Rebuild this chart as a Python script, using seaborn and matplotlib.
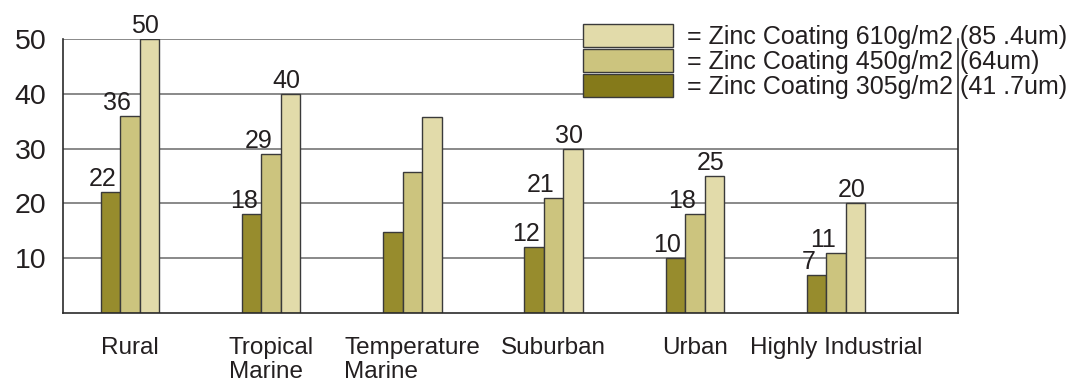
import matplotlib
matplotlib.use("Agg")
import matplotlib.pyplot as plt
import seaborn as sns
import pandas as pd

regions = ["Rural", "Tropical\nMarine", "Temperature\nMarine", "Suburban", "Urban", "Highly Industrial"]
coatings = [
    "= Zinc Coating 305g/m2 (41 .7um)",
    "= Zinc Coating 450g/m2 (64um)",
    "= Zinc Coating 610g/m2 (85 .4um)",
]
zinc_305 = [22, 18, 14.8, 12, 10, 7]
zinc_450 = [36, 29, 25.8, 21, 18, 11]
zinc_610 = [50, 40, 35.7, 30, 25, 20]
# printed values above the bars (Temperature Marine is left unlabelled)
labels_305 = ["22", "18", None, "12", "10", "7"]
labels_450 = ["36", "29", None, "21", "18", "11"]
labels_610 = ["50", "40", None, "30", "25", "20"]
y_ticks = [10, 20, 30, 40, 50]

colors = ["#978C2D", "#CCC47E", "#E2DBAA"]
legend_colors = ["#857A1A", "#CCC47E", "#E2DBAA"]

sns.set_theme(style="white")
plt.rcParams["font.family"] = ["Liberation Sans", "DejaVu Sans"]

rows = []
for coat, vals in zip(coatings, [zinc_305, zinc_450, zinc_610]):
    for reg, v in zip(regions, vals):
        rows.append({"region": reg, "coating": coat, "value": v})
df = pd.DataFrame(rows)

W, H = 1078, 382
fig = plt.figure(figsize=(W / 100, H / 100), dpi=100)
ax = fig.add_axes([63 / W, (H - 313) / H, (958 - 63) / W, (313 - 39) / H])

sns.barplot(
    data=df, x="region", y="value", hue="coating", order=regions,
    hue_order=coatings, palette=colors, saturation=1, width=0.414,
    edgecolor="#3a3a3a", linewidth=1.0, ax=ax, legend=True,
)

ax.set_ylim(0, 50)
ax.set_xlim(-0.4745, 5.864)
ax.set_yticks(y_ticks)
ax.set_yticklabels([str(t) for t in y_ticks], fontsize=20.5, color="#231f20")
ax.tick_params(axis="y", length=0, pad=12)
ax.tick_params(axis="x", length=0, pad=17)
ax.set_xticks(range(len(regions)))
ax.set_xticklabels(regions, fontsize=17.5, color="#231f20",
                   multialignment="left", linespacing=1.12)
ax.set_xlabel("")
ax.set_ylabel("")
ax.grid(axis="y", color="#6a6a6a", linewidth=1.1)
ax.set_axisbelow(True)

for side in ["left", "bottom", "right"]:
    ax.spines[side].set_visible(True)
    ax.spines[side].set_color("#2b2b2b")
    ax.spines[side].set_linewidth(1.2)
ax.spines["top"].set_visible(False)
ax.spines["right"].set_zorder(6)

# value labels, nudged a little to the left of each bar
offsets = [-5.8, -9.4, -2.9]
for container, labs, dx in zip(ax.containers, [labels_305, labels_450, labels_610], offsets):
    for bar, lab in zip(container, labs):
        if lab is None:
            continue
        ax.annotate(lab, (bar.get_x() + bar.get_width() / 2, bar.get_height()),
                    xytext=(dx, 4.3), textcoords="offset points",
                    ha="center", va="baseline", fontsize=18, color="#231f20")

handles, labs = ax.get_legend_handles_labels()
if ax.get_legend() is not None:
    ax.get_legend().remove()
for h, c in zip(handles, legend_colors):
    h.set_facecolor(c)
    h.set_edgecolor("#3a3a3a")
    h.set_linewidth(1.0)
leg = ax.legend(
    handles[::-1], labs[::-1],
    loc="upper left", bbox_to_anchor=(583 / W, (H - 24) / H),
    bbox_transform=fig.transFigure, fontsize=18,
    handlelength=3.6, handleheight=1.05, handletextpad=0.55,
    labelspacing=0, borderpad=0, borderaxespad=0,
    frameon=True, fancybox=False, framealpha=1,
)
leg.get_frame().set_facecolor("white")
leg.get_frame().set_edgecolor("none")
leg.set_zorder(5)
for t in leg.get_texts():
    t.set_color("#231f20")

fig.savefig("out.png", dpi=100)
